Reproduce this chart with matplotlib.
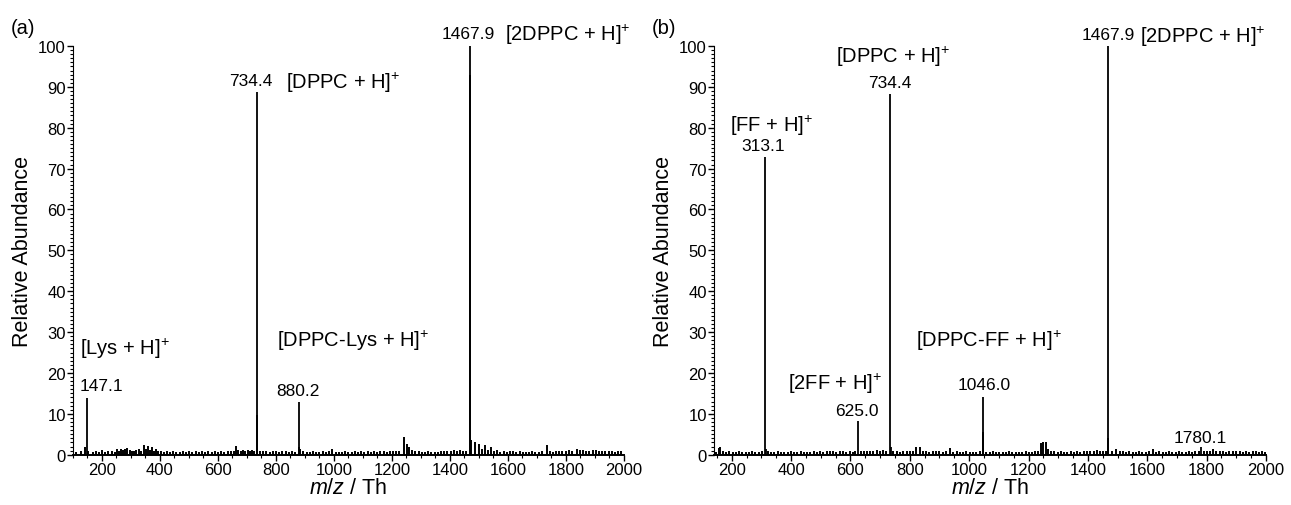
import matplotlib
matplotlib.use("Agg")
import matplotlib.pyplot as plt
from matplotlib.ticker import MultipleLocator

plt.rcParams['font.family'] = ['Liberation Sans', 'DejaVu Sans']
plt.rcParams['mathtext.fontset'] = 'custom'
plt.rcParams['mathtext.rm'] = 'Liberation Sans'
plt.rcParams['mathtext.it'] = 'Liberation Sans:italic'
plt.rcParams['mathtext.bf'] = 'Liberation Sans:bold'

# ---- panel (a): DPPC + Lys ----
peaks_a_mz = [147.1, 734.4, 735.4, 880.2, 881.2, 1467.9, 1468.9]
peaks_a_int = [13.8, 88.8, 9.6, 13.0, 1.8, 100.0, 93.0]

noise_a_mz = [
    112, 129, 140, 152, 168, 178, 189, 200, 211, 222,
    233, 244, 251, 258, 266, 274, 281, 288, 296, 303,
    311, 318, 327, 336, 345, 352, 360, 366, 372, 380,
    387, 395, 404, 414, 424, 435, 446, 457, 468, 479,
    490, 501, 512, 523, 534, 545, 556, 567, 578, 589,
    600, 611, 622, 633, 644, 655, 662, 670, 678, 686,
    694, 702, 710, 718, 726, 745, 756, 767, 778, 789,
    800, 811, 822, 833, 844, 855, 866, 884, 895, 906,
    917, 928, 939, 950, 961, 972, 983, 995, 1006, 1017,
    1028, 1039, 1050, 1061, 1072, 1083, 1094, 1105, 1116, 1127,
    1138, 1149, 1160, 1171, 1182, 1193, 1204, 1215, 1226, 1241,
    1251, 1260, 1270, 1281, 1292, 1303, 1314, 1325, 1336, 1347,
    1358, 1369, 1380, 1391, 1402, 1413, 1424, 1435, 1446, 1456,
    1474, 1488, 1500, 1512, 1522, 1531, 1541, 1552, 1563, 1574,
    1585, 1596, 1607, 1618, 1629, 1640, 1651, 1662, 1673, 1684,
    1695, 1706, 1717, 1733, 1744, 1755, 1766, 1777, 1788, 1799,
    1810, 1821, 1837, 1848, 1859, 1870, 1881, 1892, 1903, 1914,
    1925, 1936, 1947, 1958, 1969, 1980, 1991]
noise_a_int = [
    0.6, 0.9, 1.8, 0.8, 0.7, 0.9, 0.6, 1.2, 0.7, 0.9,
    0.8, 0.6, 1.3, 1.0, 1.5, 1.1, 1.4, 1.6, 1.2, 1.0,
    0.9, 1.1, 1.3, 0.9, 2.4, 1.3, 2.2, 1.2, 1.8, 1.0,
    1.4, 0.8, 1.0, 0.6, 0.9, 0.7, 0.8, 0.6, 0.7, 0.9,
    0.6, 0.8, 0.7, 0.9, 0.6, 0.8, 0.7, 0.9, 0.6, 0.8,
    0.7, 0.8, 0.6, 0.9, 0.8, 1.0, 2.2, 1.1, 0.9, 1.2,
    1.0, 1.1, 0.9, 1.2, 1.0, 0.9, 0.8, 1.0, 0.7, 0.9,
    1.0, 0.7, 0.8, 0.9, 0.7, 0.8, 0.6, 1.5, 0.8, 0.7,
    0.6, 0.8, 0.7, 0.6, 0.8, 0.7, 0.9, 1.5, 0.7, 0.6,
    0.7, 0.8, 0.6, 0.7, 0.9, 0.6, 0.8, 0.7, 0.9, 0.6,
    0.8, 0.7, 0.9, 0.8, 0.7, 1.0, 0.9, 0.8, 1.0, 4.3,
    2.6, 1.8, 1.2, 1.0, 0.8, 0.7, 0.6, 0.8, 0.7, 0.6,
    0.7, 0.8, 0.9, 1.0, 0.8, 1.2, 1.0, 1.1, 0.9, 1.0,
    3.7, 3.0, 2.6, 1.5, 2.3, 1.2, 1.8, 0.9, 1.1, 0.7,
    0.8, 0.6, 1.0, 0.9, 0.7, 0.8, 0.6, 0.7, 0.6, 0.8,
    0.6, 0.7, 0.8, 2.3, 0.8, 0.7, 0.9, 0.8, 1.0, 0.9,
    1.1, 1.0, 1.3, 1.1, 1.2, 0.9, 1.0, 1.2, 1.1, 0.9,
    1.0, 0.9, 0.8, 0.9, 0.7, 0.8, 0.9]

# ---- panel (b): DPPC + FF ----
peaks_b_mz = [313.1, 314.1, 625.0, 734.4, 735.4, 1045.0, 1046.0, 1047.0, 1467.9, 1468.9, 1780.1]
peaks_b_int = [72.9, 1.5, 8.3, 88.2, 1.8, 5.0, 14.1, 5.5, 100.0, 4.0, 2.0]

noise_b_mz = [
    148, 157, 162, 170, 181, 192, 203, 214, 225, 236,
    247, 258, 269, 280, 291, 302, 322, 333, 344, 355,
    366, 377, 388, 399, 410, 421, 432, 443, 454, 465,
    476, 487, 498, 509, 520, 531, 542, 553, 564, 575,
    586, 597, 608, 616, 634, 645, 656, 665, 676, 690,
    700, 711, 721, 745, 756, 767, 778, 789, 800, 811,
    822, 833, 844, 855, 866, 877, 888, 900, 911, 922,
    936, 947, 958, 969, 980, 991, 1002, 1013, 1024, 1035,
    1058, 1069, 1080, 1091, 1102, 1113, 1124, 1135, 1146, 1157,
    1168, 1179, 1190, 1201, 1212, 1223, 1232, 1243, 1250, 1258,
    1265, 1276, 1287, 1298, 1309, 1320, 1331, 1342, 1353, 1364,
    1375, 1386, 1397, 1408, 1419, 1430, 1441, 1452, 1460, 1480,
    1496, 1507, 1518, 1529, 1540, 1551, 1562, 1573, 1584, 1595,
    1606, 1618, 1630, 1641, 1652, 1663, 1674, 1685, 1696, 1707,
    1718, 1729, 1740, 1751, 1762, 1773, 1790, 1801, 1812, 1822,
    1833, 1844, 1855, 1866, 1877, 1889, 1900, 1911, 1922, 1933,
    1944, 1955, 1966, 1977, 1988, 1998]
noise_b_int = [
    0.7, 1.6, 2.0, 0.9, 0.6, 0.8, 0.7, 0.6, 0.8, 0.6,
    0.7, 0.6, 0.8, 0.7, 0.6, 0.8, 0.9, 0.6, 0.7, 0.8,
    0.6, 0.7, 0.6, 0.8, 0.7, 0.6, 0.8, 0.7, 0.6, 0.7,
    0.8, 0.7, 0.8, 0.7, 0.8, 0.9, 0.8, 0.7, 0.9, 0.8,
    0.7, 0.8, 0.7, 0.9, 0.8, 0.9, 1.0, 1.0, 0.9, 1.1,
    1.0, 1.1, 0.9, 0.9, 0.8, 0.7, 0.8, 0.9, 0.8, 1.0,
    2.0, 1.8, 0.9, 0.8, 0.7, 0.9, 0.8, 1.0, 0.7, 0.8,
    1.6, 0.7, 0.8, 0.6, 0.7, 0.8, 0.6, 0.7, 0.6, 0.8,
    0.7, 0.6, 0.8, 0.7, 0.6, 0.7, 0.6, 0.8, 0.7, 0.6,
    0.7, 0.6, 0.8, 0.7, 0.6, 0.8, 0.9, 2.8, 3.2, 3.0,
    1.5, 0.9, 0.8, 0.7, 0.8, 0.6, 0.7, 0.8, 0.7, 0.9,
    0.7, 0.8, 0.9, 1.0, 0.8, 1.1, 0.9, 1.0, 0.8, 1.0,
    1.3, 0.9, 0.8, 0.7, 0.8, 0.7, 0.6, 0.8, 0.7, 0.6,
    0.8, 1.4, 0.7, 0.8, 0.6, 0.7, 0.8, 0.6, 0.7, 0.8,
    0.7, 0.6, 0.8, 0.7, 0.9, 0.8, 0.9, 0.8, 1.0, 1.3,
    0.8, 0.9, 0.8, 0.7, 0.9, 1.0, 0.8, 0.9, 0.7, 0.8,
    0.7, 0.8, 0.9, 0.7, 0.8, 0.6]

# label text, x, y, ha, size  (numbers small, ion names large)
labels_a = [
    ('147.1', 124, 15.8, 'left', 12.5),
    (r'[Lys + H]$^{+}$', 124, 24.6, 'left', 14.5),
    ('734.4', 714, 90.5, 'center', 12.5),
    (r'[DPPC + H]$^{+}$', 835, 89.8, 'left', 14.5),
    ('880.2', 876, 14.5, 'center', 12.5),
    (r'[DPPC-Lys + H]$^{+}$', 803, 26.7, 'left', 14.5),
    ('1467.9', 1463, 101.9, 'center', 12.5),
    (r'[2DPPC + H]$^{+}$', 1589, 101.5, 'left', 14.5),
]
labels_b = [
    ('313.1', 306, 74.5, 'center', 12.5),
    (r'[FF + H]$^{+}$', 334, 79.2, 'center', 14.5),
    ('625.0', 620, 9.8, 'center', 12.5),
    (r'[2FF + H]$^{+}$', 547, 16.1, 'center', 14.5),
    ('734.4', 734, 90.0, 'center', 12.5),
    (r'[DPPC + H]$^{+}$', 745, 96.2, 'center', 14.5),
    ('1046.0', 1049, 16.1, 'center', 12.5),
    (r'[DPPC-FF + H]$^{+}$', 822, 26.7, 'left', 14.5),
    ('1467.9', 1467, 101.7, 'center', 12.5),
    (r'[2DPPC + H]$^{+}$', 1575, 101.0, 'left', 14.5),
    ('1780.1', 1779, 3.2, 'center', 12.5),
]

fig = plt.figure(figsize=(12.91, 5.06), dpi=100)
ax_a = fig.add_axes([0.0565, 0.0994, 0.4268, 0.8077])
ax_b = fig.add_axes([0.553, 0.0994, 0.4276, 0.8077])


def draw_spectrum(ax, pk_mz, pk_int, nz_mz, nz_int, labels, xmin):
    ax.vlines(nz_mz, 0, nz_int, color='black', lw=1.4)
    ax.vlines(pk_mz, 0, pk_int, color='black', lw=1.3, clip_on=False)
    for txt, x, y, ha, sz in labels:
        ax.text(x, y, txt, ha=ha, va='baseline', fontsize=sz, clip_on=False)
    ax.set_xlim(xmin, 2000)
    ax.set_ylim(0, 100)
    ax.spines['top'].set_visible(False)
    ax.spines['right'].set_visible(False)
    ax.spines['bottom'].set_linewidth(1.4)
    ax.xaxis.set_major_locator(MultipleLocator(200))
    ax.xaxis.set_minor_locator(MultipleLocator(50))
    ax.yaxis.set_major_locator(MultipleLocator(10))
    ax.yaxis.set_minor_locator(MultipleLocator(1))
    ax.tick_params(which='major', direction='out', length=4, width=1, labelsize=12, pad=1)
    ax.tick_params(which='minor', direction='out', length=2.2, width=0.8)
    ax.set_ylabel('Relative Abundance', fontsize=15.5, labelpad=4)
    ax.set_xlabel(r'$m/z$ / Th', fontsize=15.5, labelpad=0)


draw_spectrum(ax_a, peaks_a_mz, peaks_a_int, noise_a_mz, noise_a_int, labels_a, 100)
draw_spectrum(ax_b, peaks_b_mz, peaks_b_int, noise_b_mz, noise_b_int, labels_b, 140)

fig.text(0.008, 0.962, '(a)', fontsize=14.5, va='top')
fig.text(0.505, 0.962, '(b)', fontsize=14.5, va='top')

fig.savefig('out.png', dpi=100)
